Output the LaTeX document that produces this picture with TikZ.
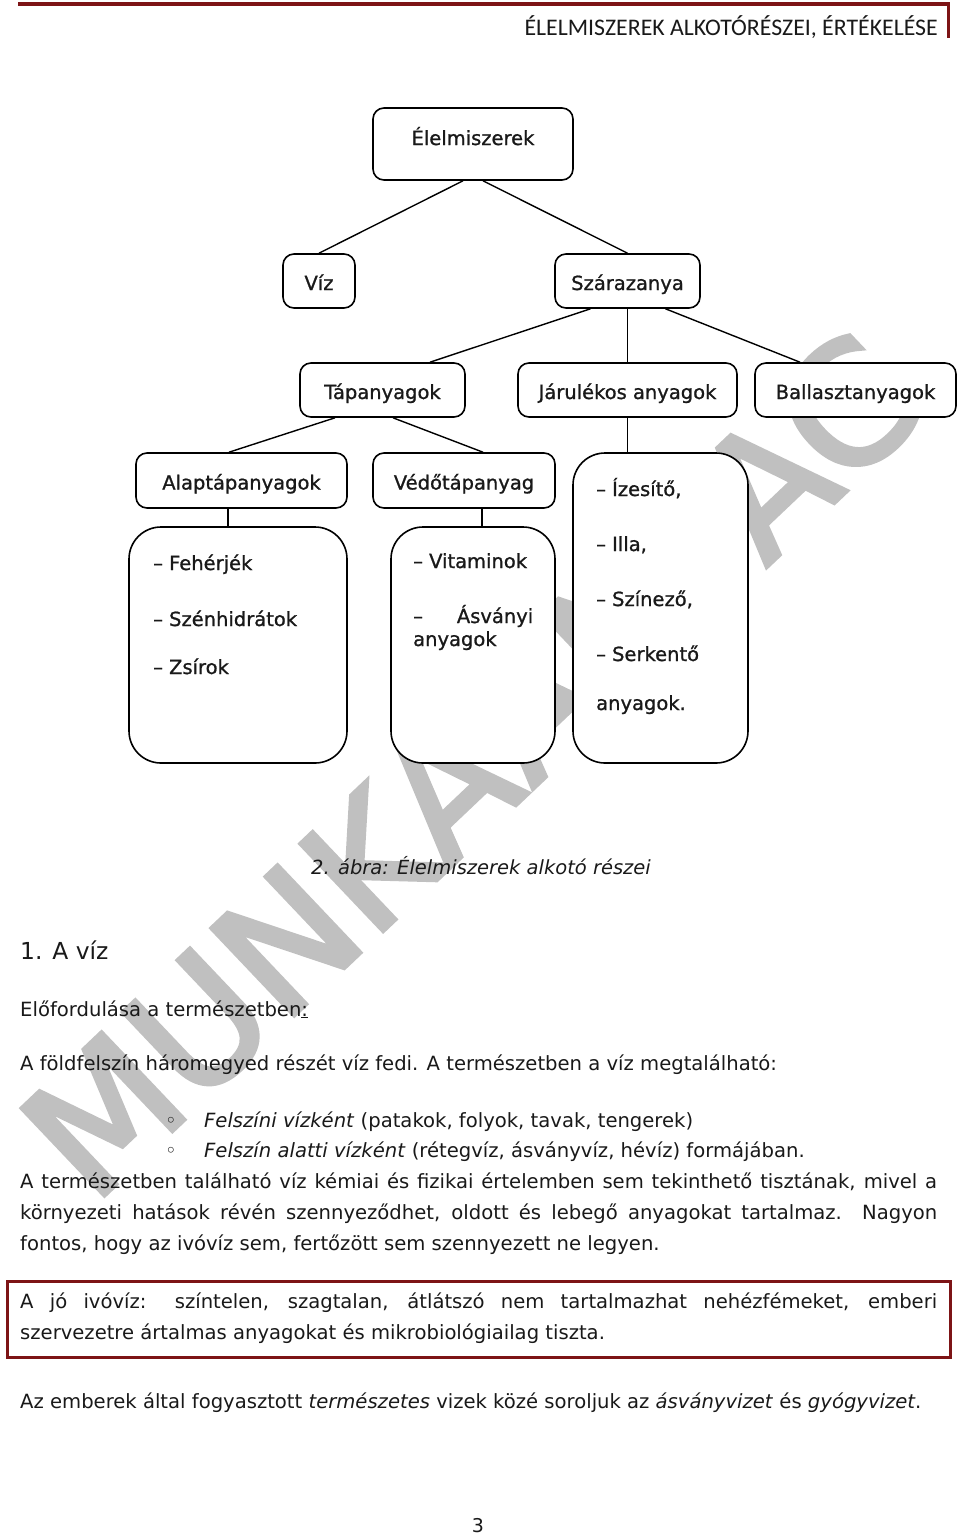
\documentclass[tikz,border=0pt]{standalone}
\usepackage{fontspec}
\setmainfont{DejaVu Sans}
\newfontfamily\hdrfont{Carlito}
\newfontfamily\wmfont[FakeBold=3]{DejaVu Sans}
\newfontfamily\boxfont[FakeBold=1]{DejaVu Sans}
\definecolor{maroon}{RGB}{125,20,22}
\definecolor{wmgray}{RGB}{192,192,192}
\definecolor{txt}{RGB}{25,25,25}
\begin{document}
\begin{tikzpicture}[x=1pt,y=-1pt,
  bx/.style={draw=black, line width=1.6pt, rounded corners=11pt, fill=white, inner sep=0pt,
    font=\boxfont\fontsize{19.5}{23}\selectfont, text=txt, text height=18pt, text depth=0pt},
  bigbx/.style={draw=black, line width=1.6pt, rounded corners=32pt, fill=white, inner sep=0pt},
  lt/.style={font=\boxfont\fontsize{19.5}{23}\selectfont, text=txt, inner sep=0pt, anchor=base west},
  conn/.style={draw=black, line width=1.4pt},
  body/.style={font=\fontsize{19.6}{31}\selectfont, text=txt, inner sep=0pt, anchor=base west},
  wm/.style={font=\wmfont\fontsize{164}{164}\selectfont, text=wmgray, inner sep=0pt}]
\useasboundingbox (0,0) rectangle (960,1535);
\fill[white] (0,0) rectangle (960,1535);

% watermark
\node[wm, rotate=43.5] (wmark) at (474,762) {MUNKAANYAG};

% header
\draw[maroon, line width=4pt] (18,4) -- (950,4);
\draw[maroon, line width=3pt] (948,3) -- (948,38);
\node[font=\hdrfont\fontsize{23.8}{26}\selectfont, text=txt, inner sep=0pt, anchor=base east] (hdr) at (938,35) {ÉLELMISZEREK ALKOTÓRÉSZEI, ÉRTÉKELÉSE};

% boxes
\node[bx, minimum width=200pt, minimum height=72pt, text height=14pt, text depth=12pt] (elel) at (473,144) {Élelmiszerek};
\node[bx, minimum width=72pt, minimum height=54pt] (viz) at (319,281) {Víz};
\node[bx, minimum width=145pt, minimum height=54pt] (szar) at (627.5,281) {Szárazanya};
\node[bx, minimum width=165pt, minimum height=54pt] (tap) at (382.5,390) {Tápanyagok};
\node[bx, minimum width=219pt, minimum height=54pt] (jarul) at (627.5,390) {Járulékos anyagok};
\node[bx, minimum width=201pt, minimum height=54pt] (ball) at (855.5,390) {Ballasztanyagok};
\node[bx, minimum width=211pt, minimum height=55pt] (alap) at (241.5,480.5) {Alaptápanyagok};
\node[bx, minimum width=182pt, minimum height=55pt] (vedo) at (464,480.5) {Védőtápanyag};
\node[bigbx, minimum width=218pt, minimum height=236pt] (list1) at (238,645) {};
\node[bigbx, minimum width=164pt, minimum height=236pt] (list2) at (473,645) {};
\node[bigbx, minimum width=175pt, minimum height=310pt] (list3) at (660.5,608) {};

% connectors
\draw[conn] ([xshift=-10pt]elel.south) -- (viz.north);
\draw[conn] ([xshift=10pt]elel.south) -- (szar.north);
\draw[conn] ([xshift=-37pt]szar.south) -- ([xshift=47.5pt]tap.north);
\draw[conn] (szar.south) -- (jarul.north);
\draw[conn] ([xshift=38pt]szar.south) -- ([xshift=-55.5pt]ball.north);
\draw[conn] ([xshift=-47.5pt]tap.south) -- ([xshift=-12.5pt]alap.north);
\draw[conn] ([xshift=10.5pt]tap.south) -- ([xshift=19pt]vedo.north);
\draw[conn] ([xshift=-13.5pt]alap.south) -- ([xshift=-13.5pt]alap.south |- list1.north);
\draw[conn] ([xshift=18pt]vedo.south) -- ([xshift=18pt]vedo.south |- list2.north);
\draw[conn] (jarul.south) -- (jarul.south |- list3.north);

% list texts
\node[lt] (l1a) at (153,570) {– Fehérjék};
\node[lt] (l1b) at (153,626) {– Szénhidrátok};
\node[lt] (l1c) at (153,674) {– Zsírok};
\node[lt] (l2a) at (413,568) {– Vitaminok};
\node[lt] (l2b) at (413,623) {\makebox[120pt][s]{– Ásványi}};
\node[lt] (l2c) at (413,646) {anyagok};
\node[lt] (l3a) at (596,496) {– Ízesítő,};
\node[lt] (l3b) at (596,551) {– Illa,};
\node[lt] (l3c) at (596,606) {– Színező,};
\node[lt] (l3d) at (596,661) {– Serkentő};
\node[lt] (l3e) at (596,710) {anyagok.};

% caption and text
\node[body, font=\fontsize{19.5}{23}\selectfont\itshape] (cap) at (311,874) {2. ábra: Élelmiszerek alkotó részei};
\node[body, font=\fontsize{23.4}{28}\selectfont] (h1) at (20,959) {1. A víz};
\node[body] (h2) at (20,1016) {Előfordulása a természetben\underline{:}};
\node[body] (p1) at (20,1070) {A földfelszín háromegyed részét víz fedi. A természetben a víz megtalálható:};
\node[body] (b1) at (165,1127) {◦};
\node[body] (b1t) at (204,1127) {\textit{Felszíni vízként} (patakok, folyok, tavak, tengerek)};
\node[body] (b2) at (165,1157) {◦};
\node[body] (b2t) at (204,1157) {\textit{Felszín alatti vízként} (rétegvíz, ásványvíz, hévíz) formájában.};
\node[body, align=left] (p2) at (20,1250) {\makebox[917pt][s]{A természetben található víz kémiai és fizikai értelemben sem tekinthető tisztának, mivel a}\\
\makebox[917pt][s]{környezeti hatások révén szennyeződhet, oldott és lebegő anyagokat tartalmaz. Nagyon}\\
fontos, hogy az ivóvíz sem, fertőzött sem szennyezett ne legyen.};

% framed box
\draw[maroon, line width=3pt] (7,1281) rectangle (950,1357);
\node[body, align=left] (p3) at (20,1339) {\makebox[917pt][s]{A jó ivóvíz: színtelen, szagtalan, átlátszó nem tartalmazhat nehézfémeket, emberi}\\
szervezetre ártalmas anyagokat és mikrobiológiailag tiszta.};

\node[body] (p4) at (20,1408) {Az emberek által fogyasztott \textit{természetes} vizek közé soroljuk az \textit{ásványvizet} és \textit{gyógyvizet}.};

\node[font=\fontsize{19}{22}\selectfont, text=txt, inner sep=0pt, anchor=base] (pg) at (478,1532) {3};
\end{tikzpicture}
\end{document}
